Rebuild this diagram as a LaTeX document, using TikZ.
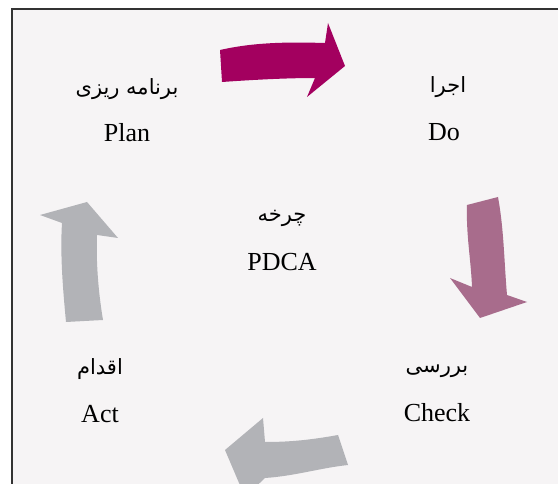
\documentclass[tikz,border=0pt]{standalone}
\usepackage{fontspec}
\setmainfont{Liberation Serif}
\newfontfamily\arabicfont[Script=Arabic]{DejaVu Sans}
\TeXXeTstate=1
\usepackage{tikz}
\usetikzlibrary{positioning}

\definecolor{panelbg}{HTML}{F6F4F5}
\definecolor{framegray}{HTML}{333333}
\definecolor{plancol}{HTML}{A3005F}
\definecolor{checkcol}{HTML}{A86C8C}
\definecolor{actcol}{HTML}{B2B3B7}

\tikzset{
    entext/.style={anchor=base, inner sep=0pt, font=\fontsize{26}{30}\selectfont},
    fatext/.style={anchor=base, inner sep=0pt, font=\fontsize{21}{26}\selectfont\arabicfont},
    blockarrow/.style={draw=none}
}

\begin{document}
\begin{tikzpicture}[x=1pt, y=-1pt]
            \useasboundingbox (0,0) rectangle (558,484);
            % panel
            \fill[white] (0,0) rectangle (558,484);
            \fill[panelbg] (12,9) rectangle (558,484);
            \draw[framegray, line width=2pt] (12,484) -- (12,9) -- (558,9);

            % arrows
            \fill[plancol, blockarrow] (220,50) .. controls (255,42) and (290,42) .. (325,43)
                -- (328,23) -- (345,66) -- (307,97) -- (315,78)
                .. controls (285,78) and (250,80) .. (222,82) -- cycle;
            \fill[checkcol, blockarrow] (467,205) -- (498,197)
                .. controls (504,230) and (504,260) .. (507,295)
                -- (527,302) -- (480,318) -- (450,278) -- (472,287)
                .. controls (471,260) and (466,235) .. (467,205) -- cycle;
            \fill[actcol, blockarrow] (338,435) .. controls (310,440) and (290,442) .. (265,442)
                -- (263,418) -- (225,450) -- (245,497) -- (265,478)
                .. controls (295,476) and (320,468) .. (348,465) -- cycle;
            \fill[actcol, blockarrow] (103,320) .. controls (98,290) and (96,260) .. (97,235)
                -- (118,238) -- (87,202) -- (40,215) -- (62,223)
                .. controls (60,255) and (63,290) .. (66,322) -- cycle;

            % labels
            \node[fatext] (planfa) at (127,95) {\beginR برنامه ریزی\endR};
            \node[entext] (plan) at (127,142) {Plan};
            \node[fatext] (dofa) at (448,93) {\beginR اجرا\endR};
            \node[entext] (do) at (444,141) {Do};
            \node[fatext] (cyclefa) at (282,222) {\beginR چرخه\endR};
            \node[entext] (cycle) at (282,271) {PDCA};
            \node[fatext] (actfa) at (100,375) {\beginR اقدام\endR};
            \node[entext] (act) at (100,423) {Act};
            \node[fatext] (checkfa) at (437,373) {\beginR بررسی\endR};
            \node[entext] (check) at (437,421) {Check};
\end{tikzpicture}
\end{document}
